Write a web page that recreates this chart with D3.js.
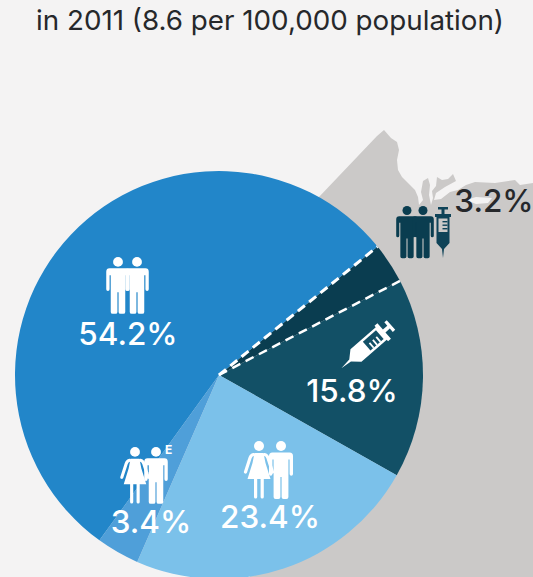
<!DOCTYPE html>
<html><head><meta charset="utf-8">
<script src="https://cdn.jsdelivr.net/npm/d3@7/dist/d3.min.js"></script>
<style>html,body{margin:0;padding:0;background:#f4f3f3}svg{display:block}text{font-family:Inter,"Open Sans",sans-serif}</style>
</head><body><svg id="c" width="533" height="577"></svg>
<script>
const titleText = "in 2011 (8.6 per 100,000 population)";
const categories = ["MSM-IDU","IDU","Heterosexual","Heterosexual endemic","MSM"];
const values = [3.2,15.8,23.4,3.4,54.2];
const labels = ["3.2%","15.8%","23.4%","3.4%","54.2%"];
const colours = ["#0a3d50","#125066","#7bc1ea","#4f9fd9","#2286c9"];
const labelPos = [[494,212],[352,402],[270,528],[151,533],[128,345]];
const coast = [[318,198],[377,136],[384,130],[391,138],[397,142],[399,150],[397,160],[398,170],[402,177],[410,185],[415,190],[418,197],[419,205],[423,200],[421,192],[423,181],[428,178],[430,185],[429,195],[431,205],[433,198],[432,191],[436,186],[437,177],[442,180],[448,179],[453,174],[456,181],[445,187],[436,193],[434,200],[441,199],[450,192],[458,190],[466,185],[475,182],[495,183],[515,180],[520,185],[533,183],[533,577],[250,577],[219,375]];
const blob = [[466,200],[476,197],[492,198],[488,203],[476,204]];

const BG="#f4f3f3", GRAY="#cbc9c8", INK="#26282b";
const svg=d3.select("#c");
svg.append("rect").attr("width",533).attr("height",577).attr("fill",BG);
const line=d3.line();
svg.append("path").attr("d",line(coast)+"Z").attr("fill",GRAY);
svg.append("path").attr("d",line(blob)+"Z").attr("fill",BG);

svg.append("text").attr("x",36).attr("y",30).attr("font-size",27.5).attr("fill",INK)
  .attr("textLength",468).attr("lengthAdjust","spacingAndGlyphs").text(titleText);

const cx=219, cy=375, R=204;
const start=51*Math.PI/180;
const pie=d3.pie().sort(null).value(d=>d).startAngle(start).endAngle(start+2*Math.PI);
const arcs=pie(values);
const arc=d3.arc().innerRadius(0).outerRadius(R);
const g=svg.append("g").attr("transform",`translate(${cx},${cy})`);
g.selectAll("path.s").data(arcs).join("path").attr("class","s").attr("d",arc).attr("fill",(d,i)=>colours[i]);
[[0,3,"9 5.5"],[1,2.5,"9 6"]].forEach(([i,w,dash])=>{
  const a=arcs[i].startAngle;
  g.append("line").attr("x1",0).attr("y1",0).attr("x2",R*Math.sin(a)).attr("y2",-R*Math.cos(a))
   .attr("stroke","#fff").attr("stroke-width",w).attr("stroke-dasharray",dash);
});

const manBody="M-8.6,11.5H8.6Q12,11.5 12,15V33a1.7,1.7 0 0 1-3.4,0V18.5H7.4V56a2,2 0 0 1-2,2H2.6a2,2 0 0 1-2-2V36H-.6V56a2,2 0 0 1-2,2H-5.4a2,2 0 0 1-2-2V18.5H-8.6V33a1.7,1.7 0 0 1-3.4,0V15Q-12,11.5 -8.6,11.5Z";
const womanBody="M-4.5,12H4.5L6.5,22 11.5,38H4.8V56a1.6,1.6 0 0 1-3.2,0V38H-1.8V56a1.6,1.6 0 0 1-3.2,0V38H-11.5L-6.5,22Z";
const womanArms="M5.5,13.5Q8,14 9,17L13.5,31M-5.5,13.5Q-8,14 -9,17L-13.5,31";
function person(x,y,s,col,kind){
  const p=svg.append("g").attr("transform",`translate(${x},${y}) scale(${s})`).attr("fill",col);
  p.append("circle").attr("cy",5).attr("r",5);
  if(kind==="m") p.append("path").attr("d",manBody);
  else {
    p.append("path").attr("d",womanBody);
    p.append("path").attr("d",womanArms).attr("fill","none").attr("stroke",col).attr("stroke-width",3.2).attr("stroke-linecap","round");
  }
}
function syringe(tr,fg,win){
  const p=svg.append("g").attr("transform",tr).attr("fill",fg);
  p.append("path").attr("d","M-5,0H5V2.5H1.5V7H8V10H6.5V36L1,42 0,51-1,42-6.5,36V10H-8V7H-1.5V2.5H-5Z");
  p.append("rect").attr("x",-4.5).attr("y",11.5).attr("width",9).attr("height",13.5).attr("fill",win);
  [14,17.5,21].forEach(y=>p.append("rect").attr("x",-.5).attr("y",y).attr("width",5).attr("height",1.4));
}
person(118,257,.98,"#fff","m");
person(137,257,.98,"#fff","m");
person(135,447,.98,"#fff","w");
person(156,447,.98,"#fff","m");
person(259,441,1,"#fff","w");
person(281,441,1,"#fff","m");
person(407,206,.9,"#0a3d50","m");
person(423,206,.9,"#0a3d50","m");
syringe("translate(443,207)","#0f4358",GRAY);
syringe("translate(391,325) rotate(49) scale(1.29)","#fff","#125066");
svg.append("text").attr("x",165).attr("y",454).attr("font-size",12).attr("font-weight",700).attr("fill","#fff").text("E");

svg.selectAll("text.v").data(labels).join("text").attr("class","v")
  .attr("x",(d,i)=>labelPos[i][0]).attr("y",(d,i)=>labelPos[i][1])
  .attr("text-anchor","middle").attr("font-size",31.5).attr("font-weight",500)
  .attr("fill",(d,i)=>i===0?INK:"#fff").text(d=>d);
</script></body></html>
